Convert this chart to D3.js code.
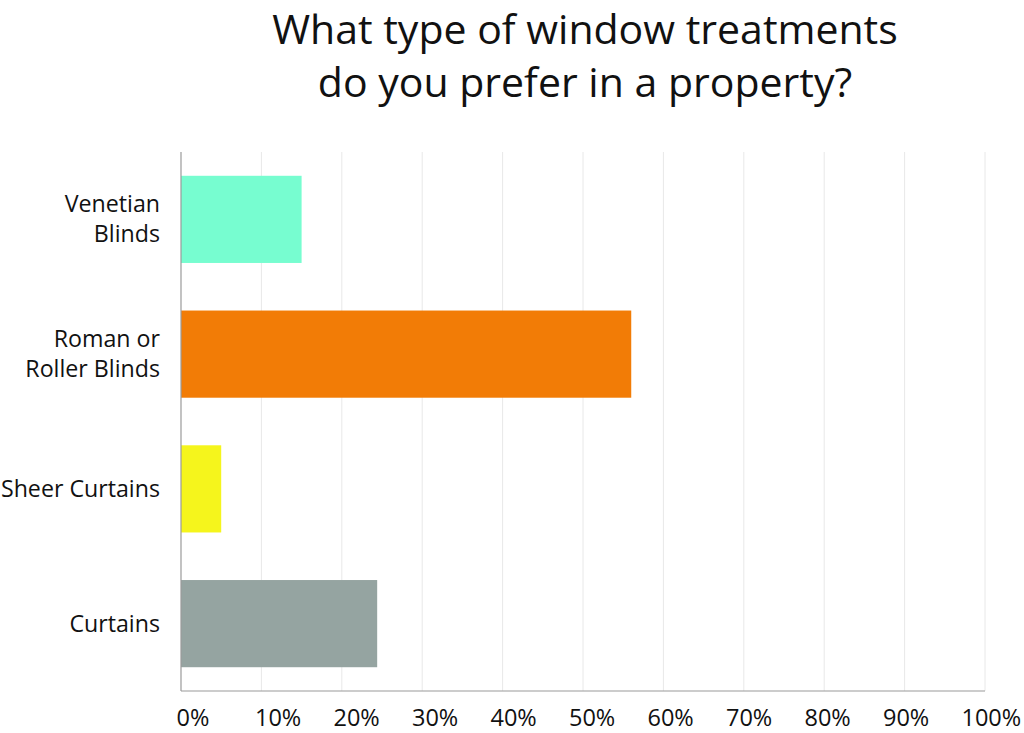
<!DOCTYPE html>
<html lang="en">
<head>
    <meta charset="UTF-8">
    <title>Window treatments</title>
    <script src="https://d3js.org/d3.v7.min.js"></script>
    <style>
        body {
            margin: 0;
            background-color: #fff;
            font-family: "Open Sans", Arial, sans-serif;
        }
    </style>
</head>
<body>
    <svg id="chart"></svg>

    <script>
        // chart data
        const categories = [["Venetian", "Blinds"], ["Roman or", "Roller Blinds"], ["Sheer Curtains"], ["Curtains"]];
        const values = [15.0, 56.0, 5.0, 24.4];
        const colors = ["#77fdd0", "#f27c06", "#f5f51c", "#95a4a1"];
        const ticks = [0, 10, 20, 30, 40, 50, 60, 70, 80, 90, 100];
        const titleLines = ["What type of window treatments", "do you prefer in a property?"];

        const width = 1024;
        const height = 733;
        const margin = { top: 152, right: 39, bottom: 42, left: 181 };

        const svg = d3.select("#chart")
            .attr("width", width)
            .attr("height", height);

        const x = d3.scaleLinear()
            .domain([0, 100])
            .range([margin.left, width - margin.right]);

        // tick labels in the original sit a little off the gridlines
        const xLabel = d3.scaleLinear()
            .domain([10, 90])
            .range([255, 883]);

        const y = d3.scaleBand()
            .domain(d3.range(categories.length))
            .range([margin.top, height - margin.bottom])
            .paddingInner(0.353)
            .paddingOuter(0.1765);

        // vertical gridlines
        svg.append("g")
            .selectAll("line")
            .data(ticks.slice(1))
            .enter().append("line")
            .attr("x1", d => x(d))
            .attr("x2", d => x(d))
            .attr("y1", margin.top)
            .attr("y2", height - margin.bottom)
            .style("stroke", "#e8e8e8")
            .style("stroke-width", 1);

        // bars
        svg.append("g")
            .selectAll("rect")
            .data(values)
            .enter().append("rect")
            .attr("x", x(0))
            .attr("y", (d, i) => y(i))
            .attr("width", d => x(d) - x(0))
            .attr("height", y.bandwidth())
            .style("fill", (d, i) => colors[i]);

        // axis lines
        svg.append("line")
            .attr("x1", x(0)).attr("x2", x(0))
            .attr("y1", margin.top).attr("y2", height - margin.bottom)
            .style("stroke", "#9a9a9a").style("stroke-width", 1.2);
        svg.append("line")
            .attr("x1", x(0)).attr("x2", x(100))
            .attr("y1", height - margin.bottom).attr("y2", height - margin.bottom)
            .style("stroke", "#9a9a9a").style("stroke-width", 1.2);

        // x tick labels
        svg.append("g")
            .selectAll("text")
            .data(ticks)
            .enter().append("text")
            .attr("x", d => xLabel(d))
            .attr("y", 726)
            .attr("text-anchor", "start")
            .style("font-size", "23.5px")
            .style("fill", "#111")
            .text(d => d + "%");

        // category labels
        const labels = svg.append("g")
            .selectAll("text")
            .data(categories)
            .enter().append("text")
            .attr("text-anchor", "end")
            .style("font-size", "23.2px")
            .style("fill", "#111");

        labels.each(function (lines, i) {
            const cy = y(i) + y.bandwidth() / 2;
            const lh = 30;
            const start = cy - (lines.length - 1) * lh / 2 + 8;
            d3.select(this).selectAll("tspan")
                .data(lines)
                .enter().append("tspan")
                .attr("x", 160)
                .attr("y", (d, j) => start + j * lh)
                .text(d => d);
        });

        // title
        svg.append("g")
            .selectAll("text")
            .data(titleLines)
            .enter().append("text")
            .attr("x", 585)
            .attr("y", (d, i) => 44 + i * 53)
            .attr("text-anchor", "middle")
            .style("font-size", "41px")
            .style("fill", "#111")
            .text(d => d);
    </script>
</body>
</html>
